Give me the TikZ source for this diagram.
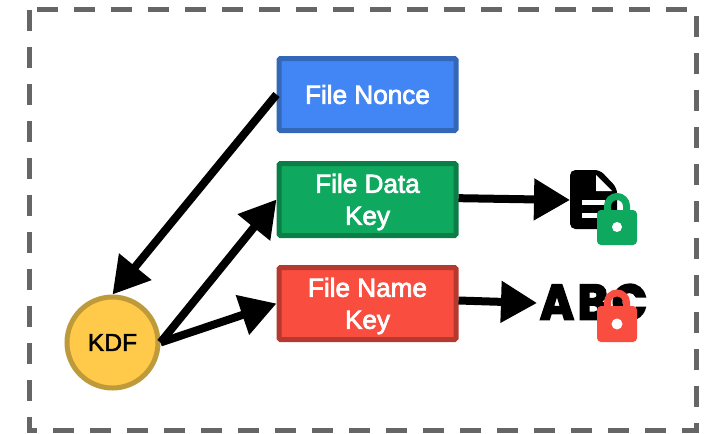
\documentclass[tikz,border=0pt]{standalone}
\usepackage{fontspec}
\usetikzlibrary{arrows.meta}
\setmainfont{Liberation Sans}
\newfontfamily\abcfont{Poppins}[FakeStretch=0.93,LetterSpace=8]
\newcommand\heavytext[2]{\special{pdf:code 2 Tr #1 w}#2\special{pdf:code 0 Tr}}
\definecolor{dashgray}{HTML}{666666}
\definecolor{nblue}{HTML}{4285F4}\definecolor{nblueb}{HTML}{3367B8}
\definecolor{ngreen}{HTML}{0FA85F}\definecolor{ngreenb}{HTML}{0B7D46}
\definecolor{nred}{HTML}{F84D3F}\definecolor{nredb}{HTML}{B5392F}
\definecolor{nyellow}{HTML}{FFCA4A}\definecolor{nyellowb}{HTML}{BF9A3A}
\tikzset{
 keybox/.style={draw=#1b,fill=#1,line width=3.75pt,rounded corners=1pt,minimum width=132.75pt,minimum height=54pt,inner sep=0pt,align=center,text=white,font=\fontsize{19.6}{24}\selectfont},
 kdfnode/.style={circle,draw=nyellowb,fill=nyellow,line width=3.75pt,minimum size=68.25pt,inner sep=0pt,text=black,font=\fontsize{18.5}{22}\selectfont},
 conn/.style={line width=6pt,-{Triangle[length=27pt,width=30pt]}},
 frame/.style={draw=dashgray,line width=3.75pt,dash pattern=on 15.75pt off 12pt}
}
\begin{document}
\begin{tikzpicture}[x=0.75pt,y=-0.75pt]
\useasboundingbox (0,0) rectangle (710,433);
\draw[frame] (29.5,9.5) rectangle (696,430);
\node[keybox=nblue] (nonce) at (367.5,94.5) {\heavytext{0.55}{File Nonce}};
\node[keybox=ngreen] (data) at (367.5,199.5) {\rule{0pt}{18pt}\heavytext{0.55}{File Data}\\\heavytext{0.55}{Key}};
\node[keybox=nred] (name) at (367.5,303.5) {\rule{0pt}{18pt}\heavytext{0.55}{File Name}\\\heavytext{0.55}{Key}};
\node[kdfnode] (kdf) at (112.5,342.5) {\heavytext{0.35}{KDF}};
\coordinate (docin) at (570,200);
\coordinate (abcin) at (537,303);
% ABC glyphs
\node[inner sep=0pt,anchor=center,font=\abcfont\bfseries\fontsize{37}{37}\selectfont] (abc) at (593.5,302) {\heavytext{1.5}{ABC}};
% document icon
\fill[black,rounded corners=4pt] (570,170) -- (600,170) -- (617,188) -- (617,229) -- (570,229) -- cycle;
\fill[white] (596,175) -- (596,191) -- (612,191) -- cycle;
\fill[white] (582,200) rectangle (605,205);
\fill[white] (582,213) rectangle (598,218);
% green lock
\draw[ngreen,line width=5.25pt] (607.5,212) -- (607.5,206) arc[start angle=180,end angle=360,radius=9.5] -- (626.5,212);
\fill[ngreen,rounded corners=3pt] (597,210) rectangle (637,245);
\fill[white] (617,227) circle[radius=5];
% red lock
\draw[nred,line width=5.25pt] (607.5,308) -- (607.5,302.5) arc[start angle=180,end angle=360,radius=9.5] -- (626.5,308);
\fill[nred,rounded corners=3pt] (597,306) rectangle (637,342);
\fill[white] (617,324) circle[radius=5.5];
% connectors
\draw[conn] (nonce.west) -- (kdf.north);
\draw[conn] (kdf.east) -- (data.west);
\draw[conn] (kdf.east) -- (name.west);
\draw[conn] ([yshift=1pt]data.east) -- (docin);
\draw[conn] ([yshift=2.25pt]name.east) -- (abcin);
\end{tikzpicture}
\end{document}
